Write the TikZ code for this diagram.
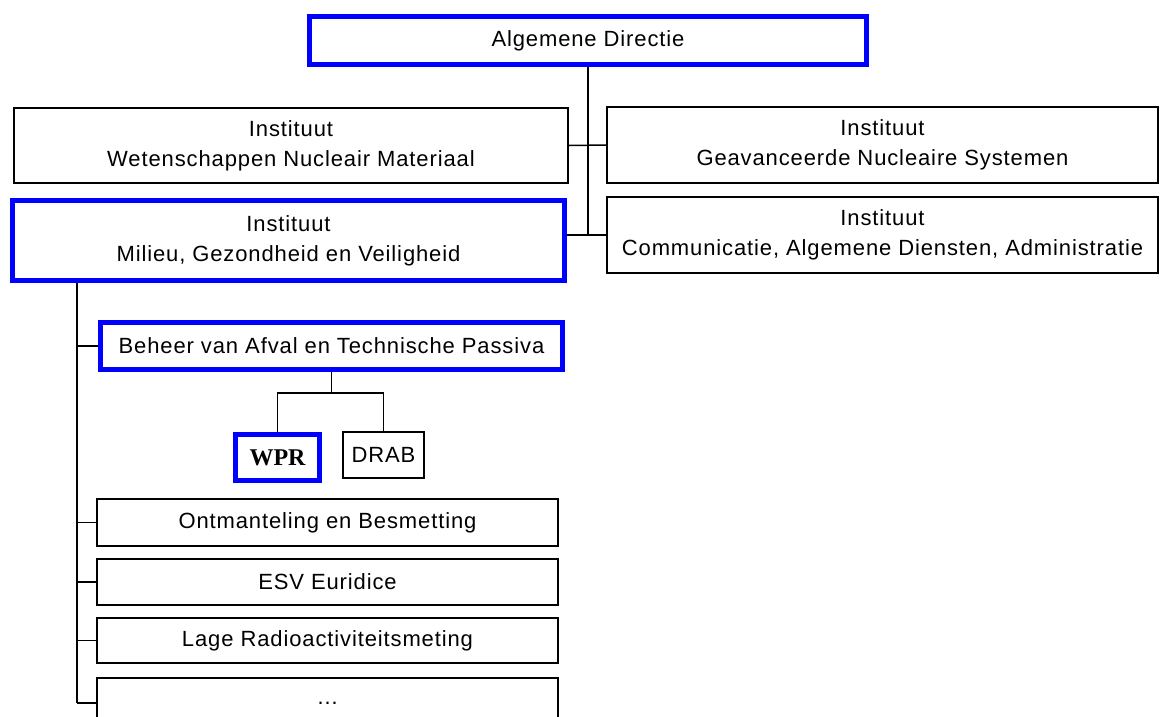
\documentclass[tikz,border=0pt]{standalone}
\usepackage{fontspec}
\setmainfont{Liberation Sans}
\newfontfamily\wprfont{Liberation Serif}

\begin{document}
\begin{tikzpicture} [
            x=1pt, y=-1pt,
            unit/.style = {draw=black, line width=1.5pt, rectangle, inner sep=0pt,
                align=center, font=\fontsize{22}{30}\selectfont\addfontfeature{LetterSpace=4}},
            selected unit/.style = {unit, draw=blue, line width=5pt},
            link/.style = {draw, line width=1.5pt}
        ]
        \useasboundingbox (0,0) rectangle (1162,716);
        % First we draw the top of the tree
        \node[selected unit, minimum width=557pt, minimum height=48pt] (dir) at (588,40.5) {Algemene Directie};
        \node[unit, minimum width=554pt, minimum height=75pt] (wnm) at (291,145.5) {Instituut\\Wetenschappen Nucleair Materiaal};
        \node[unit, minimum width=551pt, minimum height=76pt] (gns) at (882.5,145) {Instituut\\Geavanceerde Nucleaire Systemen};
        \node[selected unit, minimum width=552pt, minimum height=80pt] (mgv) at (288.5,240.5) {Instituut\\Milieu, Gezondheid en Veiligheid};
        \node[unit, minimum width=551pt, minimum height=76pt] (cada) at (882.5,235) {Instituut\\Communicatie, Algemene Diensten, Administratie};
        % Then the departments
        \node[selected unit, minimum width=462pt, minimum height=47pt] (baf) at (331.5,346) {Beheer van Afval en Technische Passiva};
        \node[selected unit, minimum width=84pt, minimum height=46pt, font=\fontsize{24}{28}\wprfont\bfseries] (wpr) at (277.5,457.5) {WPR};
        \node[unit, minimum width=81pt, minimum height=46pt] (drab) at (383.5,455) {DRAB};
        \foreach \pos/\high/\name/\txt in {
                522.5/47/ont/Ontmanteling en Besmetting,
                582/46/esv/ESV Euridice,
                640.5/45/lage/Lage Radioactiviteitsmeting,
                703/50/more/\dots}
            \node[unit, minimum width=461pt, minimum height=\high pt] (\name) at (327.5,\pos) {\txt};
        % Connect the boxes
        \coordinate (trunk) at (77,0);
        \coordinate (fork) at (331.5,393);
        \path[link] (dir.south) -- (dir.south |- cada.west);
        \path[link] (wnm.east) -- (gns.west);
        \path[link] (mgv.east |- cada.west) -- (cada.west);
        \path[link] (mgv.south -| trunk) -- (trunk |- more.west);
        \foreach \name in {baf, ont, esv, lage, more}
            \path[link] (trunk |- \name.west) -- (\name.west);
        \path[link] (baf.south) -- (fork);
        \path[link] (wpr.north) |- (fork) -| (drab.north);
    \end{tikzpicture}
\end{document}
